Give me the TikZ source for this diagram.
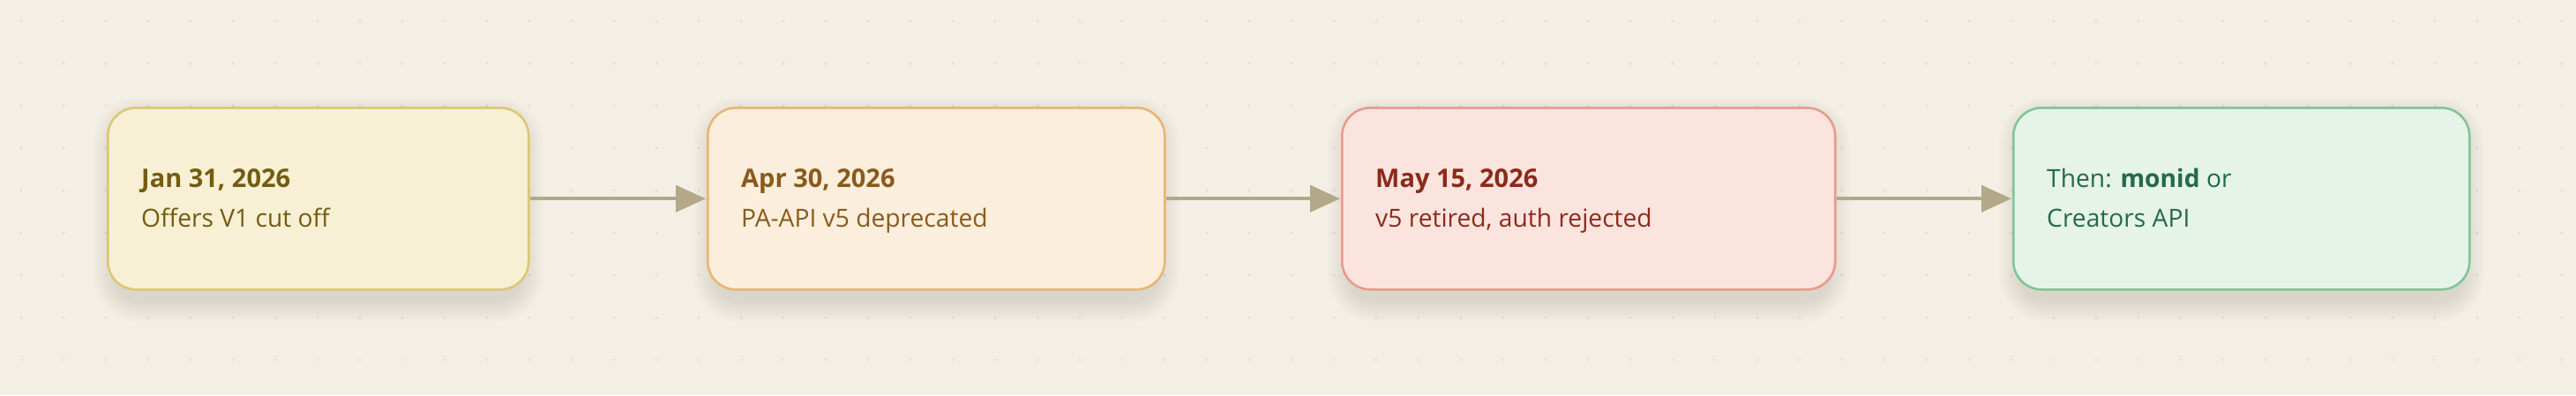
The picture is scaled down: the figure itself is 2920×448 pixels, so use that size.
\documentclass[tikz,border=0pt]{standalone}
\usepackage{fontspec}
\setmainfont{Open Sans}
\usetikzlibrary{arrows.meta}
\definecolor{bg}{HTML}{F3EFE4}
\definecolor{dotc}{HTML}{E2DDD0}
\definecolor{arrc}{HTML}{B3A888}
\definecolor{shc}{HTML}{5E5035}
\definecolor{fA}{HTML}{F8F0D4}\definecolor{dA}{HTML}{DCC670}\definecolor{tA}{HTML}{735C12}
\definecolor{fB}{HTML}{FBEEDC}\definecolor{dB}{HTML}{E8B570}\definecolor{tB}{HTML}{8A5A1C}
\definecolor{fC}{HTML}{FBE4DE}\definecolor{dC}{HTML}{E8998A}\definecolor{tC}{HTML}{8C2A1C}
\definecolor{fD}{HTML}{E6F3E8}\definecolor{dD}{HTML}{7FC497}\definecolor{tD}{HTML}{236B45}
\pgfdeclarelayer{back}\pgfdeclarelayer{shadow}
\pgfsetlayers{back,shadow,main}
\tikzset{
  box/.style={rectangle, rounded corners=32pt, line width=2.5pt, inner sep=0pt,
    minimum height=206pt, anchor=north west},
  datetxt/.style={anchor=base west, inner sep=0pt, font=\bfseries\fontsize{29}{34}\selectfont},
  bodytxt/.style={anchor=base west, inner sep=0pt, font=\fontsize{28.2}{34}\selectfont},
  arr/.style={draw=arrc, line width=4pt, -{Triangle[length=34pt,width=30pt]}, shorten >=1pt}
}
\newcommand{\softshadow}[1]{%
  \begin{pgfonlayer}{shadow}
  \foreach \k in {0,...,24}{
    \fill[shc, opacity=0.0045, rounded corners={30pt+\k pt}]
      ([shift={(-\k+8,12-\k)}]#1.north west) rectangle ([shift={(\k-8,12+\k)}]#1.south east);
  }
  \end{pgfonlayer}}
\begin{document}
\begin{tikzpicture}[x=1pt,y=-1pt]
\begin{pgfonlayer}{back}
\fill[bg] (0,0) rectangle (2920,448);
\foreach \i in {0,...,60} \foreach \j in {0,...,8} \fill[dotc] (24+48*\i,24+48*\j) circle (1.7);
\end{pgfonlayer}
\useasboundingbox (0,0) rectangle (2920,448);
\node[box, fill=fA, draw=dA, minimum width=477pt] (b1) at (121,121) {};
\node[box, fill=fB, draw=dB, minimum width=518pt] (b2) at (801,121) {};
\node[box, fill=fC, draw=dC, minimum width=559pt] (b3) at (1520,121) {};
\node[box, fill=fD, draw=dD, minimum width=517pt] (b4) at (2281,121) {};
\softshadow{b1}\softshadow{b2}\softshadow{b3}\softshadow{b4}
\draw[arr] (b1.east) -- (b2.west);
\draw[arr] (b2.east) -- (b3.west);
\draw[arr] (b3.east) -- (b4.west);
\node[datetxt, text=tA] (d1) at (160,212) {Jan 31, 2026};
\node[bodytxt, text=tA] (l1) at (160,257) {Offers V1 cut off};
\node[datetxt, text=tB] (d2) at (840,212) {Apr 30, 2026};
\node[bodytxt, text=tB] (l2) at (840,257) {PA-API v5 deprecated};
\node[datetxt, text=tC] (d3) at (1559,212) {May 15, 2026};
\node[bodytxt, text=tC] (l3) at (1559,257) {v5 retired, auth rejected};
\node[bodytxt, text=tD] (d4) at (2320,212) {Then: \textbf{monid} or};
\node[bodytxt, text=tD] (l4) at (2320,257) {Creators API};
\end{tikzpicture}
\end{document}
